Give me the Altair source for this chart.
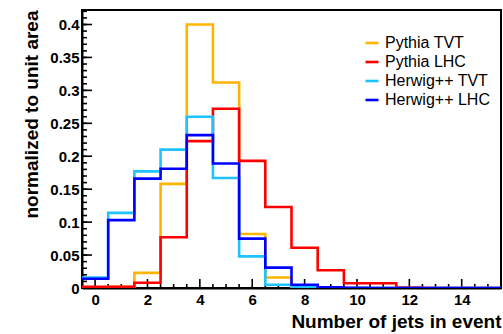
import altair as alt
import numpy as np
import pandas as pd

# Jet-multiplicity distributions, one value per integer bin (0..15), normalized to unit area
n_jets = list(range(16))
series_names = ["Pythia TVT", "Pythia LHC", "Herwig++ TVT", "Herwig++ LHC"]
series_colors = ["#FFB400", "#FF0000", "#1EC3FF", "#0000FF"]

pythia_tvt = [0.0005, 0.002, 0.023, 0.158, 0.400, 0.312, 0.082, 0.016,
              0.002, 0.0005, 0.0, 0.0, 0.0, 0.0, 0.0, 0.0]
pythia_lhc = [0.002, 0.002, 0.008, 0.077, 0.223, 0.272, 0.193, 0.123,
              0.061, 0.027, 0.0073, 0.0073, 0.0005, 0.0, 0.0, 0.0]
herwig_tvt = [0.016, 0.114, 0.177, 0.210, 0.260, 0.167, 0.048, 0.005,
              0.001, 0.0003, 0.0, 0.0, 0.0, 0.0, 0.0, 0.0]
herwig_lhc = [0.014, 0.103, 0.166, 0.181, 0.232, 0.189, 0.075, 0.031,
              0.005, 0.001, 0.0003, 0.0, 0.0, 0.0, 0.0, 0.0]

x_labels = [0, 2, 4, 6, 8, 10, 12, 14]
y_labels = [0, 0.05, 0.1, 0.15, 0.2, 0.25, 0.3, 0.35, 0.4]

X_MIN, X_MAX = -0.5, 15.5
Y_MAX = 0.422
W, H = 419, 278
FONT = "Liberation Sans"

# step outline: left bin edges, plus the closing right edge
rows = []
for name, vals in zip(series_names, [pythia_tvt, pythia_lhc, herwig_tvt, herwig_lhc]):
    for b, v in zip(n_jets, vals):
        rows.append({"series": name, "edge": b - 0.5, "value": v})
    rows.append({"series": name, "edge": n_jets[-1] + 0.5, "value": vals[-1]})
hist = pd.DataFrame(rows)

x_scale = alt.Scale(domain=[X_MIN, X_MAX], nice=False, zero=False)
y_scale = alt.Scale(domain=[0, Y_MAX], nice=False)
color_scale = alt.Scale(domain=series_names, range=series_colors)

x_axis = alt.Axis(values=x_labels, ticks=False, grid=False, labelPadding=4,
                  labelFont=FONT, labelFontWeight="bold", labelFontSize=15,
                  labelColor="black", title="Number of jets in event",
                  titleFont=FONT, titleFontWeight="bold", titleFontSize=19,
                  titleColor="black", titleAnchor="end", titlePadding=5,
                  domainColor="black", domainWidth=2)
y_axis = alt.Axis(values=y_labels, format="~g", ticks=False, grid=False,
                  labelPadding=3, labelFont=FONT, labelFontWeight="bold",
                  labelFontSize=15, labelColor="black",
                  title="normalized to unit area", titleFont=FONT,
                  titleFontWeight="bold", titleFontSize=19, titleColor="black",
                  titleAnchor="end", titlePadding=8,
                  domainColor="black", domainWidth=2)

base = alt.Chart(hist)


def hist_layer(name):
    return (base.transform_filter(alt.datum.series == name)
            .mark_line(interpolate="step-after", strokeWidth=2.6, clip=True)
            .encode(
                x=alt.X("edge:Q", scale=x_scale, axis=x_axis),
                y=alt.Y("value:Q", scale=y_scale, axis=y_axis),
                color=alt.Color("series:N", scale=color_scale, sort=series_names,
                                legend=alt.Legend(title=None, orient="none",
                                                  legendX=282, legendY=25)),
            ))


hist_layers = [hist_layer(n) for n in series_names]

# inward tick marks (major and minor) on the x and y axes
x_major = pd.DataFrame({"pos": x_labels})
x_minor = pd.DataFrame({"pos": [p for p in np.arange(0, 15.51, 0.5) if p not in x_labels]})
y_major = pd.DataFrame({"pos": y_labels})
y_minor = pd.DataFrame({"pos": [round(p, 2) for p in np.arange(0, 0.4201, 0.01)]})


def x_ticks(df, length):
    return alt.Chart(df).mark_rule(color="black", strokeWidth=1.6).encode(
        x=alt.X("pos:Q", scale=x_scale, axis=x_axis),
        y=alt.value(H), y2=alt.value(H - length))


def y_ticks(df, length):
    return alt.Chart(df).mark_rule(color="black", strokeWidth=1.6).encode(
        y=alt.Y("pos:Q", scale=y_scale, axis=y_axis),
        x=alt.value(0), x2=alt.value(length))


chart = alt.layer(
    x_ticks(x_minor, 4), x_ticks(x_major, 9),
    y_ticks(y_minor, 5), y_ticks(y_major, 10),
    *hist_layers,
).properties(
    width=W, height=H,
    autosize=alt.AutoSizeParams(type="none"),
    padding={"left": 82, "top": 10, "right": 2, "bottom": 46},
    background="white",
).configure_view(
    stroke="black", strokeWidth=2,
).configure_legend(
    labelFont=FONT, labelFontSize=16, labelColor="black",
    symbolType="stroke", symbolStrokeWidth=2.6, symbolSize=170,
    rowPadding=3, labelOffset=5, padding=0,
)

chart.save("out.html", embed_options={"renderer": "svg", "actions": False})
